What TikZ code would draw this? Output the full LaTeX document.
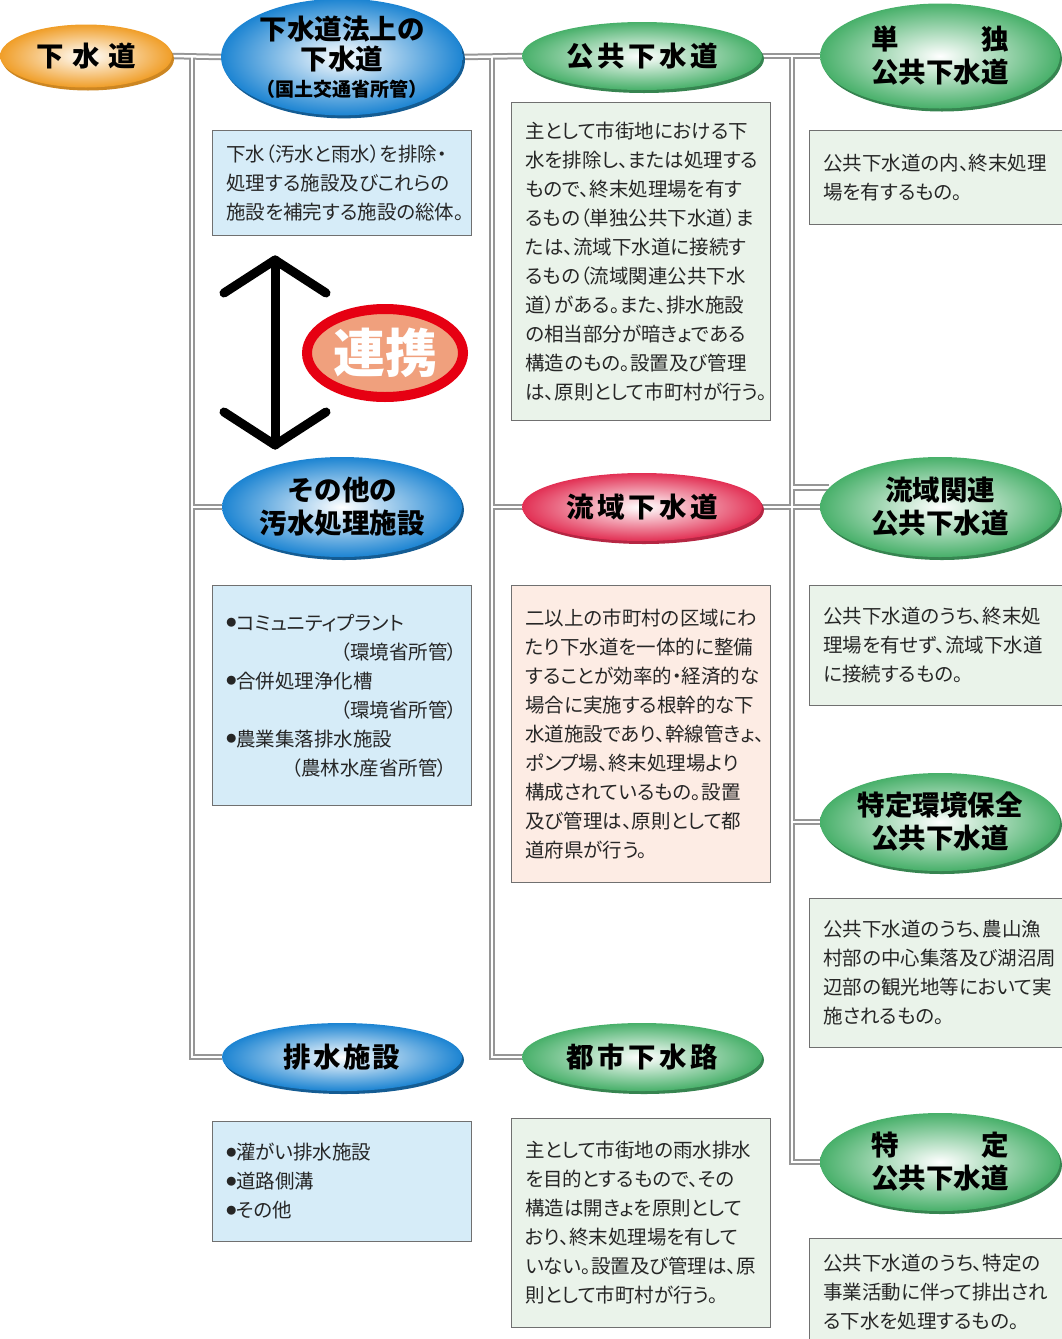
\documentclass[tikz,border=0pt]{standalone}
\usepackage{fontspec}
\newfontfamily\jp{Noto Sans CJK JP}
\newfontfamily\jpp[RawFeature=+palt]{Noto Sans CJK JP}
\usetikzlibrary{shapes.geometric,shadows,backgrounds}

\definecolor{gs_orange}{RGB}{240,158,40}
\definecolor{gs_blau}{RGB}{28,132,210}
\definecolor{gs_gruen}{RGB}{72,176,106}
\definecolor{gs_rot}{RGB}{226,48,84}
\definecolor{gs_kblau}{RGB}{214,236,248}
\definecolor{gs_kgruen}{RGB}{234,243,234}
\definecolor{gs_krosa}{RGB}{253,236,228}
\definecolor{gs_rand}{RGB}{112,112,112}
\definecolor{gs_rohr}{RGB}{150,150,150}
\definecolor{gs_renkei}{RGB}{230,0,18}
\definecolor{gs_lachs}{RGB}{240,160,125}

\newcommand{\ls}{\hspace{.13em}}
\newcommand{\punkt}{\raisebox{3.6pt}{\fontsize{10}{10}\selectfont ●}}

\begin{document}
\begin{tikzpicture}[
      x=1pt, y=-1pt,
      oval/.style={
        ellipse,
        inner sep=0pt,
        minimum width=240pt,
        align=center,
        font=\jp\bfseries\fontsize{27.5}{33}\selectfont
      },
      oval blau/.style={oval, inner color=white, outer color=gs_blau,
        drop shadow={shadow xshift=2pt, shadow yshift=-3pt, fill=gs_blau!70!black, opacity=1}},
      oval gruen/.style={oval, inner color=white, outer color=gs_gruen,
        drop shadow={shadow xshift=2pt, shadow yshift=-3pt, fill=gs_gruen!75!black, opacity=1}},
      oval rot/.style={oval, inner color=white, outer color=gs_rot,
        drop shadow={shadow xshift=2pt, shadow yshift=-3pt, fill=gs_rot!80!black, opacity=1}},
      kasten/.style={
        draw=gs_rand,
        line width=0.8pt,
        anchor=north west,
        inner xsep=14pt,
        inner ysep=6pt,
        align=left,
        text=black!85,
        font=\jpp\fontsize{19.5}{29}\selectfont
      },
      rohr/.style={draw=gs_rohr, line width=6.5pt},
      rohr innen/.style={draw=white, line width=2.5pt},
      pfeil/.style={line width=9pt, line cap=round, line join=round}
    ]

      \useasboundingbox (0,0) rectangle (1062,1339);
      \clip (0,0) rectangle (1062,1339);

      % Ellipsen
      \node [oval, minimum width=172pt, minimum height=63pt, inner color=white, outer color=gs_orange,
        drop shadow={shadow xshift=2pt, shadow yshift=-3pt, fill=gs_orange!85!black, opacity=1}]
        (gesui) at (86,56) {下\hspace{.3em}水\hspace{.3em}道};
      \node [oval blau, minimum height=115pt] (hou) at (342,57)
        {下水道法上の\\[-3pt]下水道\\[-6pt]{\fontsize{19}{24}\selectfont（国土交通省所管）}};
      \node [oval gruen, minimum height=68pt] (kokyo) at (642,56) {公\ls 共\ls 下\ls 水\ls 道};
      \node [oval gruen, minimum height=105pt] (tandoku) at (940,56) {単\hspace{3em}独\\公共下水道};

      \node [oval blau, minimum height=100pt] (sonota) at (342,507) {その他の\\汚水処理施設};
      \node [oval rot, minimum height=68pt] (ryuiki) at (642,507) {流\ls 域\ls 下\ls 水\ls 道};
      \node [oval gruen, minimum height=100pt] (kanren) at (940,507) {流域関連\\公共下水道};
      \node [oval gruen, minimum height=98pt] (tokkan) at (940,822) {特定環境保全\\公共下水道};

      \node [oval blau, minimum height=68pt] (haisui) at (342,1057) {排\hspace{.08em}水\hspace{.08em}施\hspace{.08em}設};
      \node [oval gruen, minimum height=68pt] (toshi) at (642,1057) {都\ls 市\ls 下\ls 水\ls 路};
      \node [oval gruen, minimum height=98pt] (tokutei) at (940,1162) {特\hspace{3em}定\\公共下水道};

      % Rohre
      \coordinate (a1) at (192,56);
      \coordinate (a2) at (492,56);
      \coordinate (a3) at (792,56);
      \begin{pgfonlayer}{background}
        \foreach \r in {rohr, rohr innen} {
          \draw [\r] (gesui.east) -- (hou.west);
          \draw [\r] (a1) |- (sonota.west);
          \draw [\r] (a1) |- (haisui.west);
          \draw [\r] (hou.east) -- (kokyo.west);
          \draw [\r] (a2) |- (ryuiki.west);
          \draw [\r] (a2) |- (toshi.west);
          \draw [\r] (kokyo.east) -- (tandoku.west);
          \draw [\r] (a3) |- (kanren.170);
          \draw [\r] (ryuiki.east) -- (kanren.west);
          \draw [\r] (a3) |- (tokkan.west);
          \draw [\r] (a3) |- (tokutei.west);
        }
      \end{pgfonlayer}

      % Kaesten
      \node [kasten, fill=gs_kblau, text width=231pt, minimum height=105pt] (k1) at (212,130)
        {下水（汚水と雨水）を排除・\\処理する施設及びこれらの\\施設を補完する施設の総体。};
      \node [kasten, fill=gs_kgruen, text width=231pt, minimum height=318pt] (k2) at (511,102)
        {主として市街地における下\\水を排除し、または処理する\\もので、終末処理場を有す\\るもの（単独公共下水道）ま\\たは、流域下水道に接続す\\るもの（流域関連公共下水\\道）がある。また、排水施設\\の相当部分が暗きょである\\構造のもの。設置及び管理\\は、原則として市町村が行う。};
      \node [kasten, fill=gs_kgruen, text width=240pt, minimum height=94pt] (k3) at (809,130)
        {公共下水道の内、終末処理\\場を有するもの。};
      \node [kasten, fill=gs_kblau, text width=231pt, minimum height=220pt] (k4) at (212,585)
        {\punkt コミュニティプラント\\\hspace*{\fill}（環境省所管）\hspace*{10pt}\\\punkt 合併処理浄化槽\\\hspace*{\fill}（環境省所管）\hspace*{10pt}\\\punkt 農業集落排水施設\\\hspace*{\fill}（農林水産省所管）\hspace*{10pt}};
      \node [kasten, fill=gs_krosa, text width=231pt, minimum height=297pt] (k5) at (511,585)
        {二以上の市町村の区域にわ\\たり下水道を一体的に整備\\することが効率的・経済的な\\場合に実施する根幹的な下\\水道施設であり、幹線管きょ、\\ポンプ場、終末処理場より\\構成されているもの。設置\\及び管理は、原則として都\\道府県が行う。};
      \node [kasten, fill=gs_kgruen, text width=240pt, minimum height=120pt] (k6) at (809,585)
        {公共下水道のうち、終末処\\理場を有せず、流域下水道\\に接続するもの。};
      \node [kasten, fill=gs_kgruen, text width=240pt, minimum height=149pt] (k7) at (809,898)
        {公共下水道のうち、農山漁\\村部の中心集落及び湖沼周\\辺部の観光地等において実\\施されるもの。};
      \node [kasten, fill=gs_kblau, text width=231pt, minimum height=120pt] (k8) at (212,1121)
        {\punkt 灌がい排水施設\\\punkt 道路側溝\\\punkt その他};
      \node [kasten, fill=gs_kgruen, text width=231pt, minimum height=209pt] (k9) at (511,1118)
        {主として市街地の雨水排水\\を目的とするもので、その\\構造は開きょを原則として\\おり、終末処理場を有して\\いない。設置及び管理は、原\\則として市町村が行う。};
      \node [kasten, fill=gs_kgruen, text width=240pt, minimum height=108pt] (k10) at (809,1238)
        {公共下水道のうち、特定の\\事業活動に伴って排出され\\る下水を処理するもの。};

      % Pfeil
      \coordinate (p_oben) at (275,260);
      \coordinate (p_unten) at (275,445);
      \draw [pfeil] (p_oben) -- (p_unten);
      \draw [pfeil] (224,293) -- (p_oben) -- (326,293);
      \draw [pfeil] (224,412) -- (p_unten) -- (326,412);

      % Renkei
      \node [ellipse, draw=gs_renkei, line width=10pt, fill=gs_lachs, inner sep=0pt,
        minimum width=156pt, minimum height=88pt, text=white,
        font=\jp\bfseries\fontsize{52}{56}\selectfont] (renkei) at (385,353) {連携};
    \end{tikzpicture}
\end{document}
